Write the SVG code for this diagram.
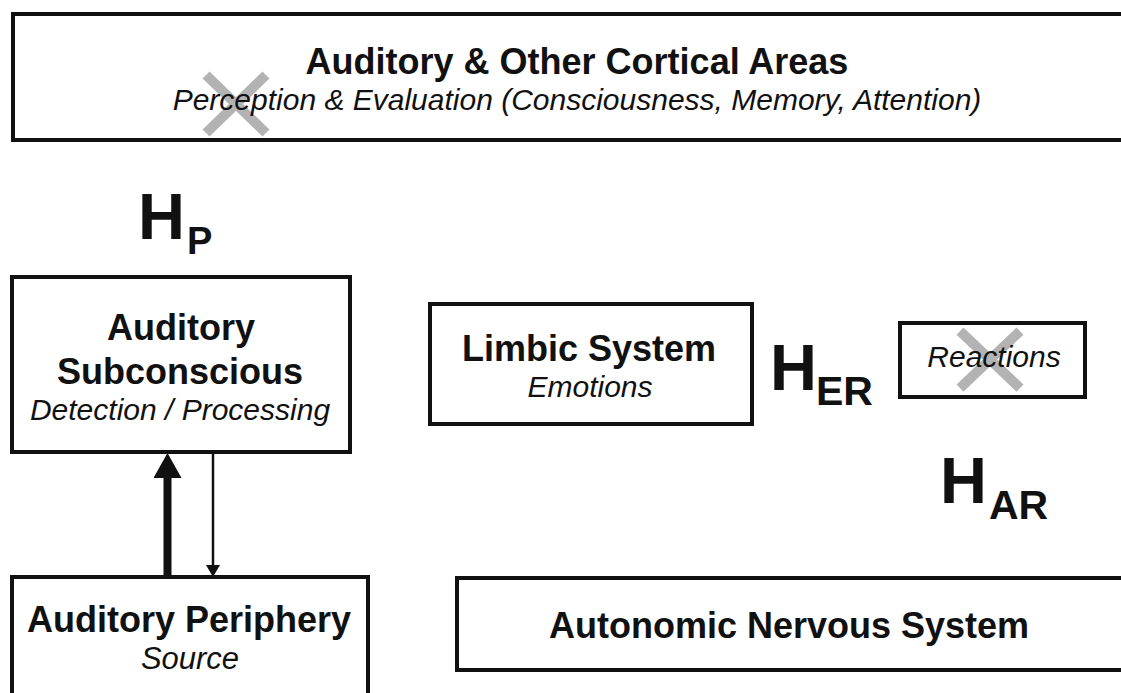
<svg xmlns="http://www.w3.org/2000/svg" width="1121" height="693" viewBox="0 0 1121 693">
<style>
.box{fill:#fff;stroke:#111;stroke-width:4}
.b{font-family:"Liberation Sans",Arial,sans-serif;font-weight:bold;fill:#111}
.i{font-family:"Liberation Sans",Arial,sans-serif;font-style:italic;fill:#111}
.c{text-anchor:middle}
.x{stroke:#b3b3b3;stroke-width:10;fill:none}
.h{font-size:65px}
.s{font-size:41px}
</style>
<defs>
<marker id="thick" viewBox="0 0 25 28" refX="8" refY="14" markerWidth="25" markerHeight="28" markerUnits="userSpaceOnUse" orient="auto"><path d="M0,0 L25,14 L0,28 Z" fill="#111"/></marker>
<marker id="thin" viewBox="0 0 12 14" refX="5" refY="7" markerWidth="12" markerHeight="14" markerUnits="userSpaceOnUse" orient="auto"><path d="M0,0 L12,7 L0,14 Z" fill="#111"/></marker>
</defs>
<rect width="1121" height="693" fill="#fff"/>
<g id="cortical">
<rect class="box" x="13" y="14" width="1130" height="126"/>
<line class="x" x1="206" y1="75" x2="266" y2="133"/>
<line class="x" x1="266" y1="75" x2="206" y2="133"/>
<text class="b c" x="577" y="74" font-size="36">Auditory &amp; Other Cortical Areas</text>
<text class="i c" x="577" y="110" font-size="30">Perception &amp; Evaluation (Consciousness, Memory, Attention)</text>
</g>
<g id="hp">
<text class="b h" x="138" y="239">H</text>
<text class="b" x="187" y="254" font-size="38">P</text>
</g>
<g id="subconscious">
<rect class="box" x="12" y="277" width="338" height="175"/>
<text class="b c" x="181" y="340" font-size="36">Auditory</text>
<text class="b c" x="180" y="384" font-size="36">Subconscious</text>
<text class="i c" x="180" y="420" font-size="30">Detection / Processing</text>
</g>
<g id="limbic">
<rect class="box" x="430" y="304" width="322" height="120"/>
<text class="b c" x="589" y="361" font-size="36">Limbic System</text>
<text class="i c" x="590" y="397" font-size="30">Emotions</text>
</g>
<g id="her">
<text class="b h" x="770" y="390">H</text>
<text class="b s" x="816" y="405">ER</text>
</g>
<g id="reactions">
<rect class="box" x="900" y="323" width="185" height="74"/>
<line class="x" x1="960" y1="331" x2="1020" y2="388"/>
<line class="x" x1="1020" y1="331" x2="960" y2="388"/>
<text class="i c" x="994" y="367" font-size="30">Reactions</text>
</g>
<g id="har">
<text class="b h" x="940" y="503">H</text>
<text class="b s" x="989" y="519">AR</text>
</g>
<g id="periphery">
<rect class="box" x="12" y="577" width="356" height="140"/>
<text class="b c" x="189" y="632" font-size="36">Auditory Periphery</text>
<text class="i c" x="190" y="669" font-size="31">Source</text>
</g>
<g id="autonomic">
<rect class="box" x="457" y="578" width="700" height="92"/>
<text class="b c" x="789" y="638" font-size="36">Autonomic Nervous System</text>
</g>
<g id="connectors">
<path d="M167.5,575 L167.5,470" stroke="#111" stroke-width="8" fill="none" marker-end="url(#thick)"/>
<path d="M213,454 L213,570" stroke="#111" stroke-width="2.5" fill="none" marker-end="url(#thin)"/>
</g>
</svg>
